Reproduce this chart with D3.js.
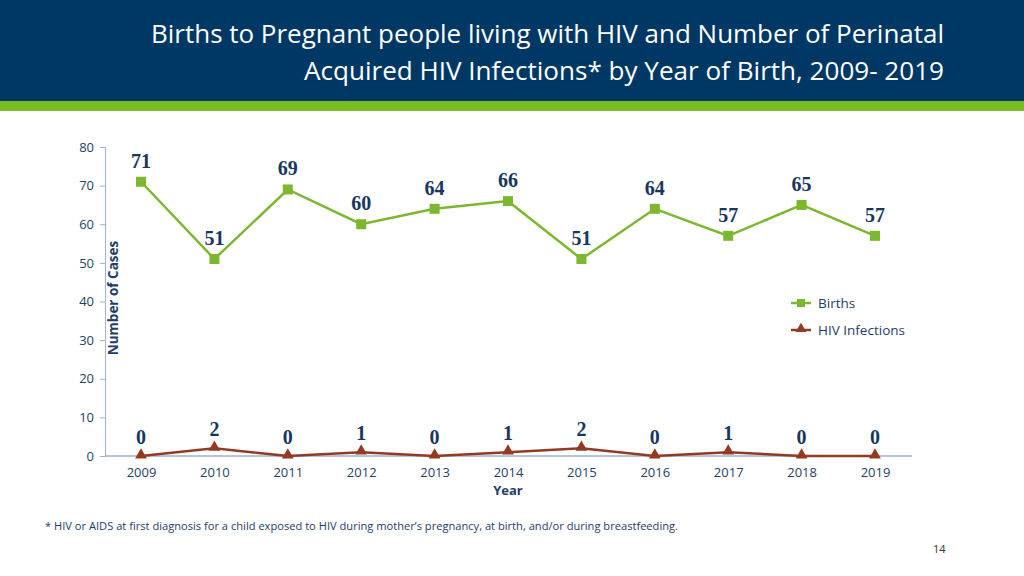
<!DOCTYPE html>
<html><head><meta charset="utf-8">
<script src="https://cdn.jsdelivr.net/npm/d3@7"></script>
<style>body{margin:0;background:#fff}svg{display:block}</style>
</head><body><svg id="c" width="1024" height="576"></svg>
<script>
const years = [2009,2010,2011,2012,2013,2014,2015,2016,2017,2018,2019];
const births = [71,51,69,60,64,66,51,64,57,65,57];
const hiv = [0,2,0,1,0,1,2,0,1,0,0];
const yTicks = [0,10,20,30,40,50,60,70,80];
const titleLines = ["Births to Pregnant people living with HIV and Number of Perinatal","Acquired HIV Infections* by Year of Birth, 2009- 2019"];
const legendNames = ["Births","HIV Infections"];

const svg = d3.select("#c");
const font = "'Open Sans', 'Noto Sans', sans-serif";
const green = "#7cb82f", brown = "#953a22", navy = "#1f3d6b", tickCol = "#243f66";

svg.append("rect").attr("x",0).attr("y",0).attr("width",1024).attr("height",101).attr("fill","#003865");
svg.append("rect").attr("x",0).attr("y",101).attr("width",1024).attr("height",10).attr("fill","#78be20");
svg.selectAll("text.title").data(titleLines).enter().append("text")
  .attr("x",944).attr("y",(d,i)=>43+i*37).attr("text-anchor","end")
  .attr("fill","#fff").attr("font-family",font).attr("font-size",26)
  .attr("textLength",(d,i)=>i==0?793:640).attr("lengthAdjust","spacingAndGlyphs")
  .text(d=>d);

const x = d3.scalePoint().domain(years).range([141,875]);
const y = d3.scaleLinear().domain([0,80]).range([456,147]);

const g = svg.append("g");
const axCol = "#9db3cf";
const ya = g.append("g").attr("transform","translate(105,0)")
  .call(d3.axisLeft(y).tickValues(yTicks).tickSize(5).tickPadding(6));
ya.select(".domain").attr("stroke",axCol);
ya.selectAll(".tick line").attr("stroke",axCol);
ya.selectAll("text").attr("font-family",font).attr("font-size",13).attr("fill",tickCol);
const xa = g.append("g").attr("transform","translate(0,456)")
  .call(d3.axisBottom(x).tickSize(0).tickPadding(12).tickFormat(d3.format("d")));
xa.select(".domain").remove();
g.append("line").attr("x1",105).attr("x2",912).attr("y1",456).attr("y2",456).attr("stroke",axCol).attr("stroke-width",1.3);
xa.selectAll("text").attr("font-family",font).attr("font-size",13).attr("fill",tickCol);

g.append("text").attr("x",508).attr("y",495).attr("text-anchor","middle")
  .attr("font-family",font).attr("font-weight","bold").attr("font-size",13).attr("fill",navy).text("Year");
g.append("text").attr("transform","translate(118,298) rotate(-90)").attr("text-anchor","middle")
  .attr("font-family",font).attr("font-weight","bold").attr("font-size",13.5).attr("fill",navy).text("Number of Cases");

const line = d3.line().x((d,i)=>x(years[i])).y(d=>y(d));
g.append("path").datum(births).attr("d",line).attr("fill","none").attr("stroke",green).attr("stroke-width",2.5);
g.append("path").datum(hiv).attr("d",line).attr("fill","none").attr("stroke",brown).attr("stroke-width",2.5);
g.selectAll("rect.b").data(births).enter().append("rect")
  .attr("x",(d,i)=>x(years[i])-5).attr("y",d=>y(d)-5).attr("width",10).attr("height",10).attr("fill",green);
const tri = d3.symbol().type(d3.symbolTriangle).size(60);
g.selectAll("path.h").data(hiv).enter().append("path").attr("d",tri)
  .attr("transform",(d,i)=>`translate(${x(years[i])},${y(d)-1})`).attr("fill",brown);

const lblFont = "'Liberation Serif','DejaVu Serif',serif";
g.selectAll("text.bl").data(births).enter().append("text")
  .attr("x",(d,i)=>x(years[i])).attr("y",d=>y(d)-14).attr("text-anchor","middle")
  .attr("font-family",lblFont).attr("font-weight","bold").attr("font-size",20).attr("fill","#173760").text(d=>d);
g.selectAll("text.hl").data(hiv).enter().append("text")
  .attr("x",(d,i)=>x(years[i])).attr("y",d=>y(d)-12).attr("text-anchor","middle")
  .attr("font-family",lblFont).attr("font-weight","bold").attr("font-size",20).attr("fill","#173760").text(d=>d);

const leg = g.append("g");
[green,brown].forEach((c,i)=>{
  const yy = 303 + i*27;
  leg.append("line").attr("x1",791).attr("x2",811).attr("y1",yy).attr("y2",yy).attr("stroke",c).attr("stroke-width",2.5);
  if(i==0) leg.append("rect").attr("x",797).attr("y",yy-4).attr("width",8).attr("height",8).attr("fill",c);
  else leg.append("path").attr("d",d3.symbol().type(d3.symbolTriangle).size(50)).attr("transform",`translate(801,${yy-1})`).attr("fill",c);
  leg.append("text").attr("x",818).attr("y",yy+4.5).attr("font-family",font).attr("font-size",13.5).attr("fill",navy).text(legendNames[i]);
});

svg.append("text").attr("x",45).attr("y",530).attr("font-family",font).attr("font-size",10.5).attr("fill","#1f3d6b")
  .attr("textLength",633).attr("lengthAdjust","spacingAndGlyphs")
  .text("* HIV or AIDS at first diagnosis for a child exposed to HIV during mother\u2019s pregnancy, at birth, and/or during breastfeeding.");
svg.append("text").attr("x",933).attr("y",553).attr("font-family",font).attr("font-size",11).attr("fill","#333").text("14");
</script></body></html>
